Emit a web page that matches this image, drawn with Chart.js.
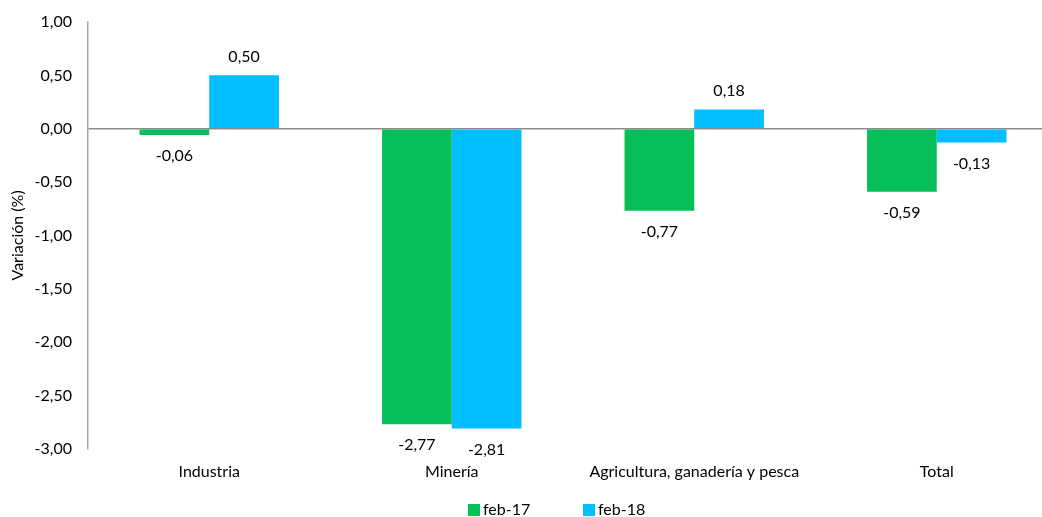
<!DOCTYPE html>
<html><head><meta charset="utf-8">
<script src="https://cdn.jsdelivr.net/npm/chart.js@4.4.1/dist/chart.umd.min.js"></script>
<style>
html,body{margin:0;padding:0;background:#fff;overflow:hidden;}
#wrap{width:1058px;height:517px;position:relative;}
</style></head><body>
<div id="wrap"><canvas id="c"></canvas></div>
<script>
const categories = ["Industria", "Minería", "Agricultura, ganadería y pesca", "Total"];
const feb17 = [-0.06, -2.77, -0.77, -0.59];
const feb18 = [0.50, -2.81, 0.18, -0.13];
const seriesNames = ["feb-17", "feb-18"];
const seriesColors = ['#07BF59', '#00BEFF'];
const yMin = -3, yMax = 1, yStep = 0.5;

const fmt = v => v.toFixed(2).replace('.', ',');
const FONT = "Lato, 'Open Sans', sans-serif";

const labelPlugin = {
  id: 'vals',
  afterDatasetsDraw(chart) {
    const ctx = chart.ctx;
    ctx.save();
    ctx.font = "16px " + FONT;
    ctx.fillStyle = '#000';
    ctx.textAlign = 'center';
    ctx.textBaseline = 'middle';
    chart.data.datasets.forEach((ds, i) => {
      chart.getDatasetMeta(i).data.forEach((bar, j) => {
        const v = ds.data[j];
        const y = v >= 0 ? bar.y - 19 : bar.y + 21;
        ctx.fillText(fmt(v), bar.x, y);
      });
    });
    ctx.restore();
  }
};

const legendPlugin = {
  id: 'customLegend',
  afterDraw(chart) {
    const ctx = chart.ctx;
    ctx.save();
    ctx.font = "16px " + FONT;
    ctx.textBaseline = 'middle';
    ctx.textAlign = 'left';
    const starts = [468, 583];
    const y = 510;
    chart.data.datasets.forEach((ds, i) => {
      ctx.fillStyle = ds.backgroundColor;
      ctx.fillRect(starts[i], y - 6, 12, 12);
      ctx.fillStyle = '#000';
      ctx.fillText(ds.label, starts[i] + 15, y);
    });
    ctx.restore();
  }
};

new Chart(document.getElementById('c'), {
  type: 'bar',
  data: {
    labels: categories,
    datasets: [
      { label: seriesNames[0], data: feb17, backgroundColor: seriesColors[0], barPercentage: 1, categoryPercentage: 0.575 },
      { label: seriesNames[1], data: feb18, backgroundColor: seriesColors[1], barPercentage: 1, categoryPercentage: 0.575 }
    ]
  },
  options: {
    responsive: true,
    maintainAspectRatio: false,
    animation: false,
    layout: { padding: { top: 22, left: 0, right: 0, bottom: 23 } },
    plugins: {
      tooltip: { enabled: false },
      legend: { display: false }
    },
    scales: {
      x: {
        grid: { display: false, drawTicks: false },
        border: { display: false },
        ticks: { color: '#000', padding: 13, font: { size: 16, family: FONT }, maxRotation: 0 }
      },
      y: {
        min: yMin, max: yMax,
        afterFit: s => { s.width = 88; s.paddingTop = 0; },
        ticks: { stepSize: yStep, color: '#000', padding: 16, font: { size: 16, family: FONT }, callback: v => fmt(v) },
        grid: { drawTicks: false, color: c => c.tick && c.tick.value === 0 ? '#8C8C8C' : 'rgba(0,0,0,0)', lineWidth: 1.5 },
        border: { display: true, color: '#A6A6A6', width: 1.5 },
        title: { display: true, text: 'Variación (%)', color: '#000', font: { size: 16, family: FONT }, padding: { top: 8, bottom: 4 } }
      }
    }
  },
  plugins: [labelPlugin, legendPlugin]
});
</script>
</body></html>
